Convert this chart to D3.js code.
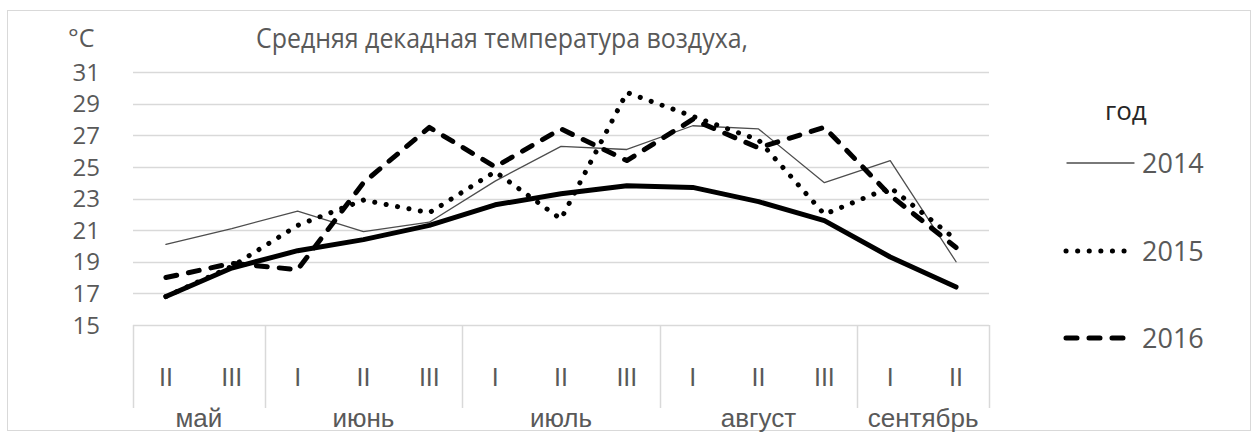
<!DOCTYPE html>
<html>
<head>
<meta charset="utf-8">
<script src="https://cdn.jsdelivr.net/npm/d3@7"></script>
<style>
  body { margin: 0; background: #fff; }
  text { font-family: "Open Sans", sans-serif; }
</style>
</head>
<body>
<script>
// decades of each month
var decades = ["II","III","I","II","III","I","II","III","I","II","III","I","II"];
var monthNames = ["май","июнь","июль","август","сентябрь"];
var monthDecades = [2, 3, 3, 3, 2];
var yTicks = [15, 17, 19, 21, 23, 25, 27, 29, 31];

var t2014 = [20.1, 21.1, 22.2, 20.9, 21.5, 24.1, 26.3, 26.1, 27.6, 27.4, 24.0, 25.4, 19.0];
var t2015 = [16.8, 18.7, 21.3, 22.9, 22.1, 24.7, 21.7, 29.7, 28.2, 26.7, 22.0, 23.7, 20.4];
var t2016 = [18.0, 18.9, 18.5, 24.0, 27.5, 25.0, 27.4, 25.4, 28.0, 26.2, 27.5, 23.2, 19.9];
var tNorm = [16.8, 18.6, 19.7, 20.4, 21.3, 22.6, 23.3, 23.8, 23.7, 22.8, 21.6, 19.3, 17.4];

var width = 1253, height = 433;
var plot = {left: 133, right: 989, top: 72, bottom: 325};

var svg = d3.select("body")
  .append("svg")
    .attr("width", width)
    .attr("height", height);

// chart border
svg.append("rect")
  .attr("x", 7.5).attr("y", 10.5)
  .attr("width", 1243).attr("height", 420)
  .attr("fill", "none")
  .attr("stroke", "#d9d9d9");

var x = d3.scaleBand()
  .domain(d3.range(decades.length))
  .range([plot.left, plot.right])
  .paddingInner(0).paddingOuter(0);

var y = d3.scaleLinear()
  .domain([15, 31])
  .range([plot.bottom, plot.top]);

// gridlines
svg.append("g")
  .selectAll("line")
  .data(yTicks)
  .enter()
  .append("line")
    .attr("x1", plot.left)
    .attr("x2", plot.right)
    .attr("y1", function(d) { return Math.round(y(d)) + 0.5; })
    .attr("y2", function(d) { return Math.round(y(d)) + 0.5; })
    .attr("stroke", "#d9d9d9")
    .attr("stroke-width", 1.5);

// y labels
svg.append("g")
  .selectAll("text")
  .data(yTicks)
  .enter()
  .append("text")
    .attr("x", 100)
    .attr("y", function(d) { return y(d); })
    .attr("dy", "0.36em")
    .attr("text-anchor", "end")
    .style("font-size", "24px")
    .style("fill", "#595959")
    .text(function(d) { return d; });

svg.append("text")
  .attr("x", 68)
  .attr("y", 47)
  .style("font-size", "25px")
  .style("fill", "#595959")
  .text("°C");

svg.append("text")
  .attr("x", 256)
  .attr("y", 48)
  .attr("textLength", 492)
  .attr("lengthAdjust", "spacingAndGlyphs")
  .style("font-size", "28px")
  .style("fill", "#595959")
  .text("Средняя декадная температура воздуха,");

// multi-level category axis
var bounds = [0];
monthDecades.forEach(function(n, i) { bounds.push(bounds[i] + n); });
var boundX = bounds.map(function(b) {
  return b < decades.length ? x(b) : x(decades.length - 1) + x.bandwidth();
});

svg.append("g")
  .selectAll("line")
  .data(boundX)
  .enter()
  .append("line")
    .attr("x1", function(d) { return Math.round(d) + 0.5; })
    .attr("x2", function(d) { return Math.round(d) + 0.5; })
    .attr("y1", plot.bottom)
    .attr("y2", 408)
    .attr("stroke", "#d9d9d9")
    .attr("stroke-width", 1.5);

svg.append("g")
  .selectAll("text")
  .data(decades)
  .enter()
  .append("text")
    .attr("x", function(d, i) { return x(i) + x.bandwidth() / 2; })
    .attr("y", 386)
    .attr("text-anchor", "middle")
    .style("font-family", "'Liberation Sans', Arial, sans-serif")
    .style("font-size", "25px")
    .style("fill", "#595959")
    .text(function(d) { return d; });

svg.append("g")
  .selectAll("text")
  .data(monthNames)
  .enter()
  .append("text")
    .attr("x", function(d, i) { return (boundX[i] + boundX[i + 1]) / 2; })
    .attr("y", 427)
    .attr("text-anchor", "middle")
    .style("font-family", "'Liberation Sans', Arial, sans-serif")
    .style("font-size", "26px")
    .style("fill", "#595959")
    .text(function(d) { return d; });

// series
var line = d3.line()
  .x(function(d, i) { return x(i) + x.bandwidth() / 2; })
  .y(function(d) { return y(d); });

var series = [
  {name: null, values: tNorm, width: 5, dash: null, color: "#000"},
  {name: "2014", values: t2014, width: 1.3, dash: null, color: "#4d4d4d"},
  {name: "2015", values: t2015, width: 5, dash: "0.1,11.5", color: "#000"},
  {name: "2016", values: t2016, width: 5, dash: "11,12", color: "#000"}
];

svg.append("g")
  .selectAll("path")
  .data(series)
  .enter()
  .append("path")
    .attr("d", function(d) { return line(d.values); })
    .attr("fill", "none")
    .attr("stroke", function(d) { return d.color; })
    .attr("stroke-width", function(d) { return d.width; })
    .attr("stroke-dasharray", function(d) { return d.dash; })
    .attr("stroke-linecap", "round")
    .attr("stroke-linejoin", "round");

// legend
svg.append("text")
  .attr("x", 1105)
  .attr("y", 120)
  .style("font-size", "26px")
  .style("fill", "#262626")
  .text("год");

var legendY = [163, 251, 338];
var legend = svg.append("g")
  .selectAll("g")
  .data(series.slice(1))
  .enter()
  .append("g")
    .attr("transform", function(d, i) { return "translate(0," + legendY[i] + ")"; });

legend.append("line")
  .attr("x1", function(d) { return d.dash ? 1066 : 1067; })
  .attr("x2", function(d) { return d.dash ? 1126 : 1134; })
  .attr("stroke", function(d) { return d.color; })
  .attr("stroke-width", function(d) { return d.width; })
  .attr("stroke-dasharray", function(d) { return d.dash; })
  .attr("stroke-linecap", "round");

legend.append("text")
  .attr("x", 1142)
  .attr("dy", "0.36em")
  .style("font-size", "27px")
  .style("fill", "#595959")
  .text(function(d) { return d.name; });
</script>
</body>
</html>
